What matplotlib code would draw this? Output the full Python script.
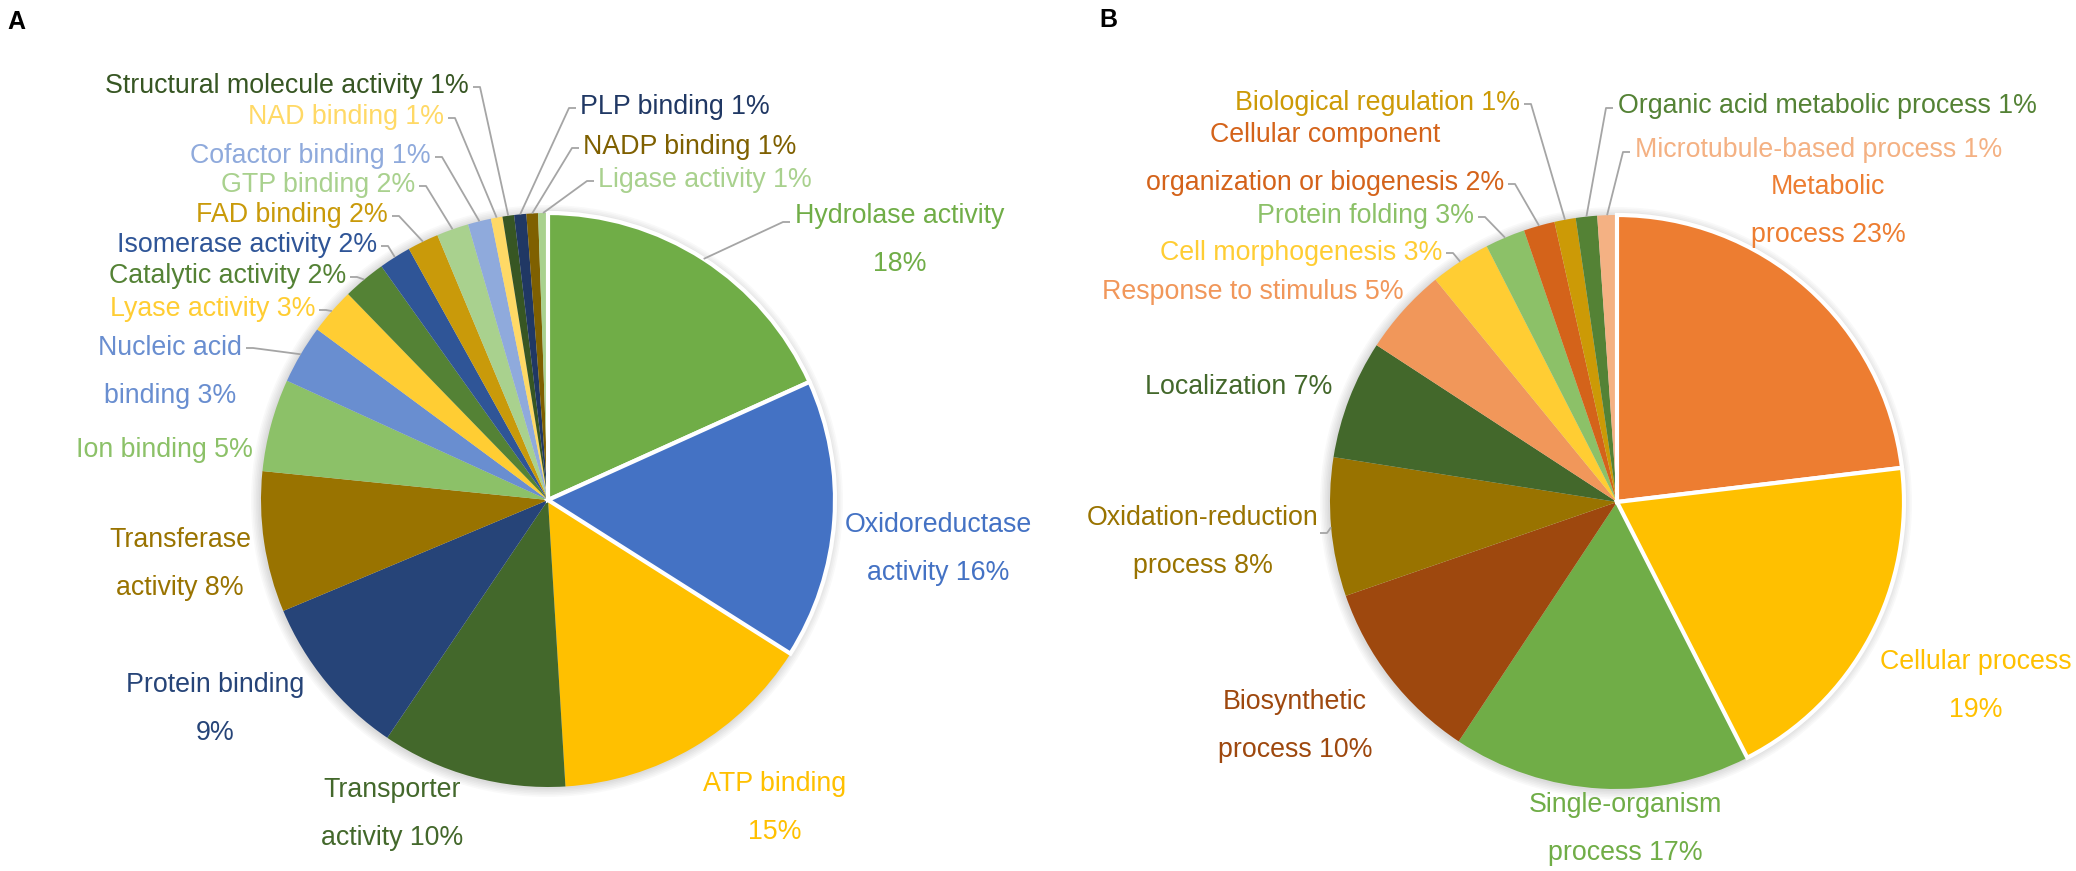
import numpy as np
import matplotlib.pyplot as plt
from matplotlib.patches import Circle

plt.rcParams['font.family'] = ['Liberation Sans', 'DejaVu Sans']

W, H = 2076, 871

# A: molecular function, clockwise from 12 o'clock
mf_labels = ['Hydrolase activity\n18%', 'Oxidoreductase\nactivity 16%', 'ATP binding\n15%',
             'Transporter\nactivity 10%', 'Protein binding\n9%', 'Transferase\nactivity 8%',
             'Ion binding 5%', 'Nucleic acid\nbinding 3%', 'Lyase activity 3%',
             'Catalytic activity 2%', 'Isomerase activity 2%', 'FAD binding 2%',
             'GTP binding 2%', 'Cofactor binding 1%', 'NAD binding 1%',
             'Structural molecule activity 1%', 'PLP binding 1%', 'NADP binding 1%',
             'Ligase activity 1%']
mf_values = [18.2, 15.7, 15.0, 10.4, 9.2, 7.9, 5.2, 3.3, 2.6, 2.4, 1.8, 1.75, 1.8,
             1.3, 0.65, 0.65, 0.68, 0.65, 0.55]

# B: biological process, clockwise from 12 o'clock
bp_labels = ['Metabolic\nprocess 23%', 'Cellular process\n19%', 'Single-organism\nprocess 17%',
             'Biosynthetic\nprocess 10%', 'Oxidation-reduction\nprocess 8%', 'Localization 7%',
             'Response to stimulus 5%', 'Cell morphogenesis 3%', 'Protein folding 3%',
             'Cellular component\norganization or biogenesis 2%', 'Biological regulation 1%',
             'Organic acid metabolic process 1%', 'Microtubule-based process 1%']
bp_values = [23.1, 19.4, 16.8, 10.4, 7.8, 6.7, 4.9, 3.4, 2.25, 1.75, 1.2, 1.2, 1.1]

# styling / layout
mf_colors = ['#70AD47', '#4472C4', '#FFC000', '#43682B', '#264478', '#997300', '#8CC168',
             '#698ED0', '#FFCD33', '#548235', '#2F5597', '#C99A0A', '#A9D18E', '#8FAADC',
             '#FFD966', '#375623', '#203864', '#7F6000', '#A9D18E']
bp_colors = ['#ED7D31', '#FFC000', '#70AD47', '#9E480E', '#997300', '#43682B', '#F1975A',
             '#FFCD33', '#8CC168', '#D4631A', '#CC9A06', '#548235', '#F4B183']

# (x, y of first line, alignment) in pixels from top-left
mf_text = [(900, 216, 'center'), (938, 525, 'center'), (775, 784, 'center'),
           (392, 790, 'center'), (215, 685, 'center'), (180, 540, 'center'),
           (164, 450, 'center'), (170, 348, 'center'), (315, 309, 'right'),
           (346, 276, 'right'), (377, 245, 'right'), (388, 215, 'right'),
           (415, 185, 'right'), (431, 156, 'right'), (444, 117, 'right'),
           (469, 86, 'right'), (580, 107, 'left'), (583, 147, 'left'),
           (598, 180, 'left')]
mf_leader = [(790, 222), None, None, None, None, None, None, (246, 348), (319, 310),
             (350, 277), (381, 246), (392, 216), (419, 186), (435, 157), (448, 118),
             (473, 87), (576, 108), (579, 148), (594, 181)]

bp_text = [(1828, 187, 'center'), (1976, 662, 'center'), (1625, 805, 'center'),
           (1295, 702, 'center'), (1203, 518, 'center'), (1332, 387, 'right'),
           (1404, 292, 'right'), (1442, 253, 'right'), (1474, 216, 'right'),
           (1325, 135, 'center'), (1520, 103, 'right'), (1618, 106, 'left'),
           (1635, 150, 'left')]
bp_leader = [None, None, None, None, (1320, 533), None, None, (1446, 253), (1478, 217),
             (1508, 184), (1524, 104), (1613, 108), (1630, 152)]

FS = 19.3
STEP = 48


def draw_pie(ax, values, colors, labels, text_pos, leaders, cx, cy, r):
    # soft halo like the office-chart shadow
    for k in range(6):
        ax.add_patch(Circle((cx - 1, H - cy - 1), r + 1 + k * 1.6, color='#000000',
                            alpha=0.022, lw=0, zorder=1))
    wedges, _ = ax.pie(values, colors=colors, startangle=90, counterclock=False,
                       center=(cx, H - cy), radius=r, wedgeprops=dict(linewidth=0))
    for w in wedges:
        w.set_zorder(2)
    for w in wedges[:2]:
        w.set_edgecolor('white')
        w.set_linewidth(3)
        w.set_zorder(3)
    vals = np.array(values, dtype=float)
    mids = (np.cumsum(vals) - vals / 2) / vals.sum() * 2 * np.pi
    for lab, col, (x, y, ha), lead, th in zip(labels, colors, text_pos, leaders, mids):
        for i, line in enumerate(lab.split('\n')):
            ax.text(x, H - (y + i * STEP), line, ha=ha, va='center', color=col,
                    fontsize=FS, zorder=5)
        if lead is not None:
            ex = cx + r * np.sin(th)
            ey = cy - r * np.cos(th)
            sx = lead[0] + 7 * np.sign(ex - lead[0])
            ax.plot([lead[0], sx, ex], [H - lead[1], H - lead[1], H - ey],
                    color='#A5A5A5', lw=1.3, zorder=4, solid_capstyle='butt')


fig = plt.figure(figsize=(W / 100, H / 100), dpi=100)
ax = fig.add_axes([0, 0, 1, 1])

draw_pie(ax, mf_values, mf_colors, mf_labels, mf_text, mf_leader, 548, 500, 287)
draw_pie(ax, bp_values, bp_colors, bp_labels, bp_text, bp_leader, 1617, 502, 287)

ax.text(7, H - 22, 'A', fontsize=18, fontweight='bold', va='center', ha='left')
ax.text(1099, H - 20, 'B', fontsize=18, fontweight='bold', va='center', ha='left')

ax.set_xlim(0, W)
ax.set_ylim(0, H)
ax.set_aspect('equal')
ax.axis('off')

fig.savefig('out.png', dpi=100)
